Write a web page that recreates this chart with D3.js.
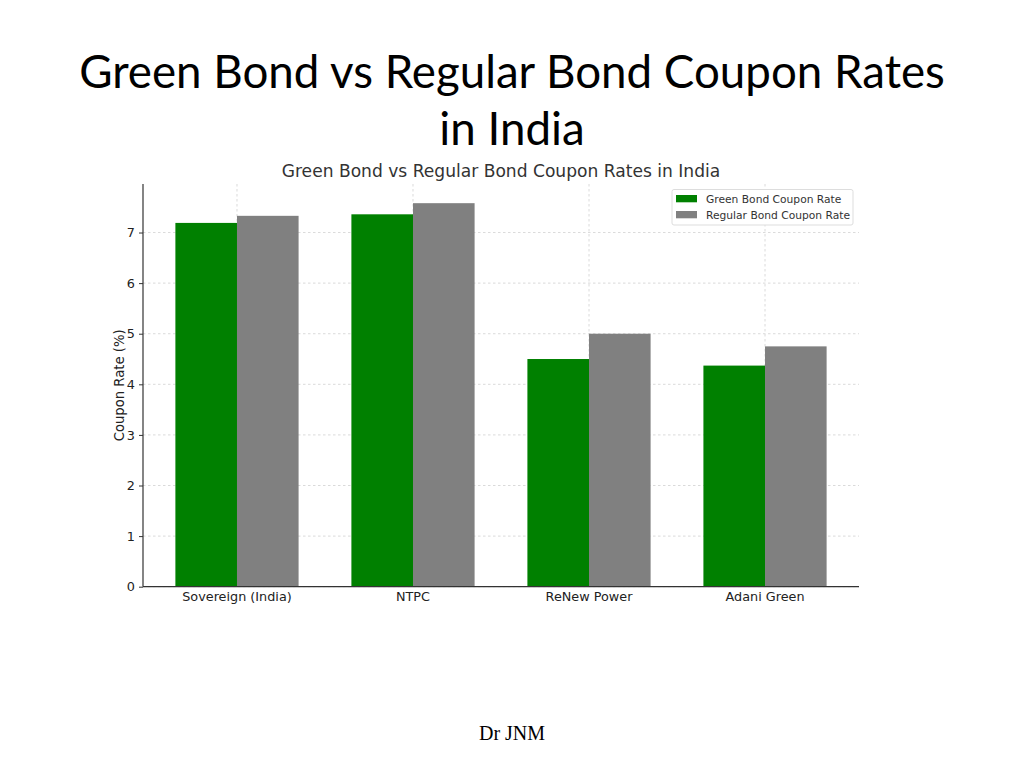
<!DOCTYPE html>
<html>
<head>
<meta charset="utf-8">
<script src="https://cdn.jsdelivr.net/npm/d3@7"></script>
<style>
  body { margin: 0; background: #fff; }
  svg { display: block; }
</style>
</head>
<body>
<div id="master"></div>
<script>
// values
const categories = ["Sovereign (India)", "NTPC", "ReNew Power", "Adani Green"];
const greenRates = [7.19, 7.36, 4.5, 4.37];
const regularRates = [7.33, 7.58, 5.0, 4.75];
const seriesNames = ["Green Bond Coupon Rate", "Regular Bond Coupon Rate"];
const yTicks = [0, 1, 2, 3, 4, 5, 6, 7];

const w = 1024, h = 768;
const colors = ["#008000", "#808080"];

let svg = d3.select("#master").append("svg").attr("width", w).attr("height", h);
svg.append("rect").attr("width", w).attr("height", h).attr("fill", "#fff");

// slide title
let slideTitle = svg.append("text")
  .attr("text-anchor", "middle")
  .attr("font-family", "Lato, 'Open Sans', sans-serif")
  .attr("font-size", 45.7)
  .attr("fill", "#000");
slideTitle.append("tspan").attr("x", 512).attr("y", 88).text("Green Bond vs Regular Bond Coupon Rates");
slideTitle.append("tspan").attr("x", 512).attr("y", 145).text("in India");

// plot area
let pLeft = 143, pRight = 859, pTop = 184, pBottom = 586.7;

let maxVal = d3.max(greenRates.concat(regularRates));
let yScale = d3.scaleLinear().domain([0, maxVal * 1.05]).range([pBottom, pTop]);

let xScale = d3.scaleBand().domain(categories).range([pLeft, pRight])
  .paddingInner(0.3).paddingOuter(0.184);
let xSub = d3.scaleBand().domain([0, 1]).range([0, xScale.bandwidth()]);

let rows = categories.map((c, i) => ({ cat: c, vals: [greenRates[i], regularRates[i]] }));

// grid
let grid = svg.append("g");
grid.selectAll("line.h").data(yTicks).enter().append("line")
  .attr("x1", pLeft).attr("x2", pRight)
  .attr("y1", d => yScale(d)).attr("y2", d => yScale(d))
  .attr("stroke", "#d0d0d0").attr("stroke-width", 0.8).attr("stroke-dasharray", "2.5,2.5");
grid.selectAll("line.v").data(categories).enter().append("line")
  .attr("x1", d => xScale(d) + xScale.bandwidth() / 2)
  .attr("x2", d => xScale(d) + xScale.bandwidth() / 2)
  .attr("y1", pTop).attr("y2", pBottom)
  .attr("stroke", "#d0d0d0").attr("stroke-width", 0.8).attr("stroke-dasharray", "2.5,2.5");

// bars
let groups = svg.selectAll("g.grp").data(rows).enter().append("g")
  .attr("transform", d => "translate(" + xScale(d.cat) + ",0)");
groups.selectAll("rect").data(d => d.vals).enter().append("rect")
  .attr("x", (d, i) => xSub(i))
  .attr("y", d => yScale(d))
  .attr("width", xSub.bandwidth())
  .attr("height", d => pBottom - yScale(d))
  .attr("fill", (d, i) => colors[i]);

// axes
let yAxis = d3.axisLeft(yScale).tickValues(yTicks).tickSize(4).tickPadding(4).tickFormat(d3.format("d"));
let gy = svg.append("g").attr("transform", "translate(" + pLeft + ",0)").call(yAxis);
let xAxis = d3.axisBottom(xScale).tickSize(0).tickPadding(5);
let gx = svg.append("g").attr("transform", "translate(0," + pBottom + ")").call(xAxis);
[gx, gy].forEach(g => {
  g.selectAll("text").attr("font-family", "'DejaVu Sans', sans-serif").attr("font-size", 12.8).attr("fill", "#222");
  g.selectAll("line").attr("stroke", "#333");
  g.select(".domain").attr("stroke", "#333").attr("stroke-width", 1.2);
});
gy.select(".domain").attr("d", "M0," + pTop + "V" + pBottom);
gx.select(".domain").attr("d", "M" + pLeft + ",0H" + pRight);

svg.append("text")
  .attr("transform", "translate(124," + ((pTop + pBottom) / 2) + ") rotate(-90)")
  .attr("text-anchor", "middle")
  .attr("font-family", "'DejaVu Sans', sans-serif").attr("font-size", 13.2).attr("fill", "#222")
  .text("Coupon Rate (%)");

// chart title
svg.append("text").attr("x", 501).attr("y", 177)
  .attr("text-anchor", "middle")
  .attr("font-family", "'DejaVu Sans', sans-serif").attr("font-size", 17.1).attr("fill", "#333")
  .text("Green Bond vs Regular Bond Coupon Rates in India");

// legend
let legend = svg.append("g");
legend.append("rect").attr("x", 672).attr("y", 189.5).attr("width", 181).attr("height", 35.5)
  .attr("rx", 2).attr("fill", "#fff").attr("stroke", "#dddddd");
let items = legend.selectAll("g.item").data(seriesNames).enter().append("g")
  .attr("transform", (d, i) => "translate(676," + (195 + i * 16) + ")");
items.append("rect").attr("width", 21).attr("height", 7.3).attr("fill", (d, i) => colors[i]);
items.append("text").attr("x", 30).attr("y", 7.5)
  .attr("font-family", "'DejaVu Sans', sans-serif").attr("font-size", 10.7).attr("fill", "#333")
  .text(d => d);

// footer
svg.append("text").attr("x", 512).attr("y", 740).attr("text-anchor", "middle")
  .attr("font-family", "'Liberation Serif', serif").attr("font-size", 20).attr("fill", "#000")
  .text("Dr JNM");
</script>
</body>
</html>
